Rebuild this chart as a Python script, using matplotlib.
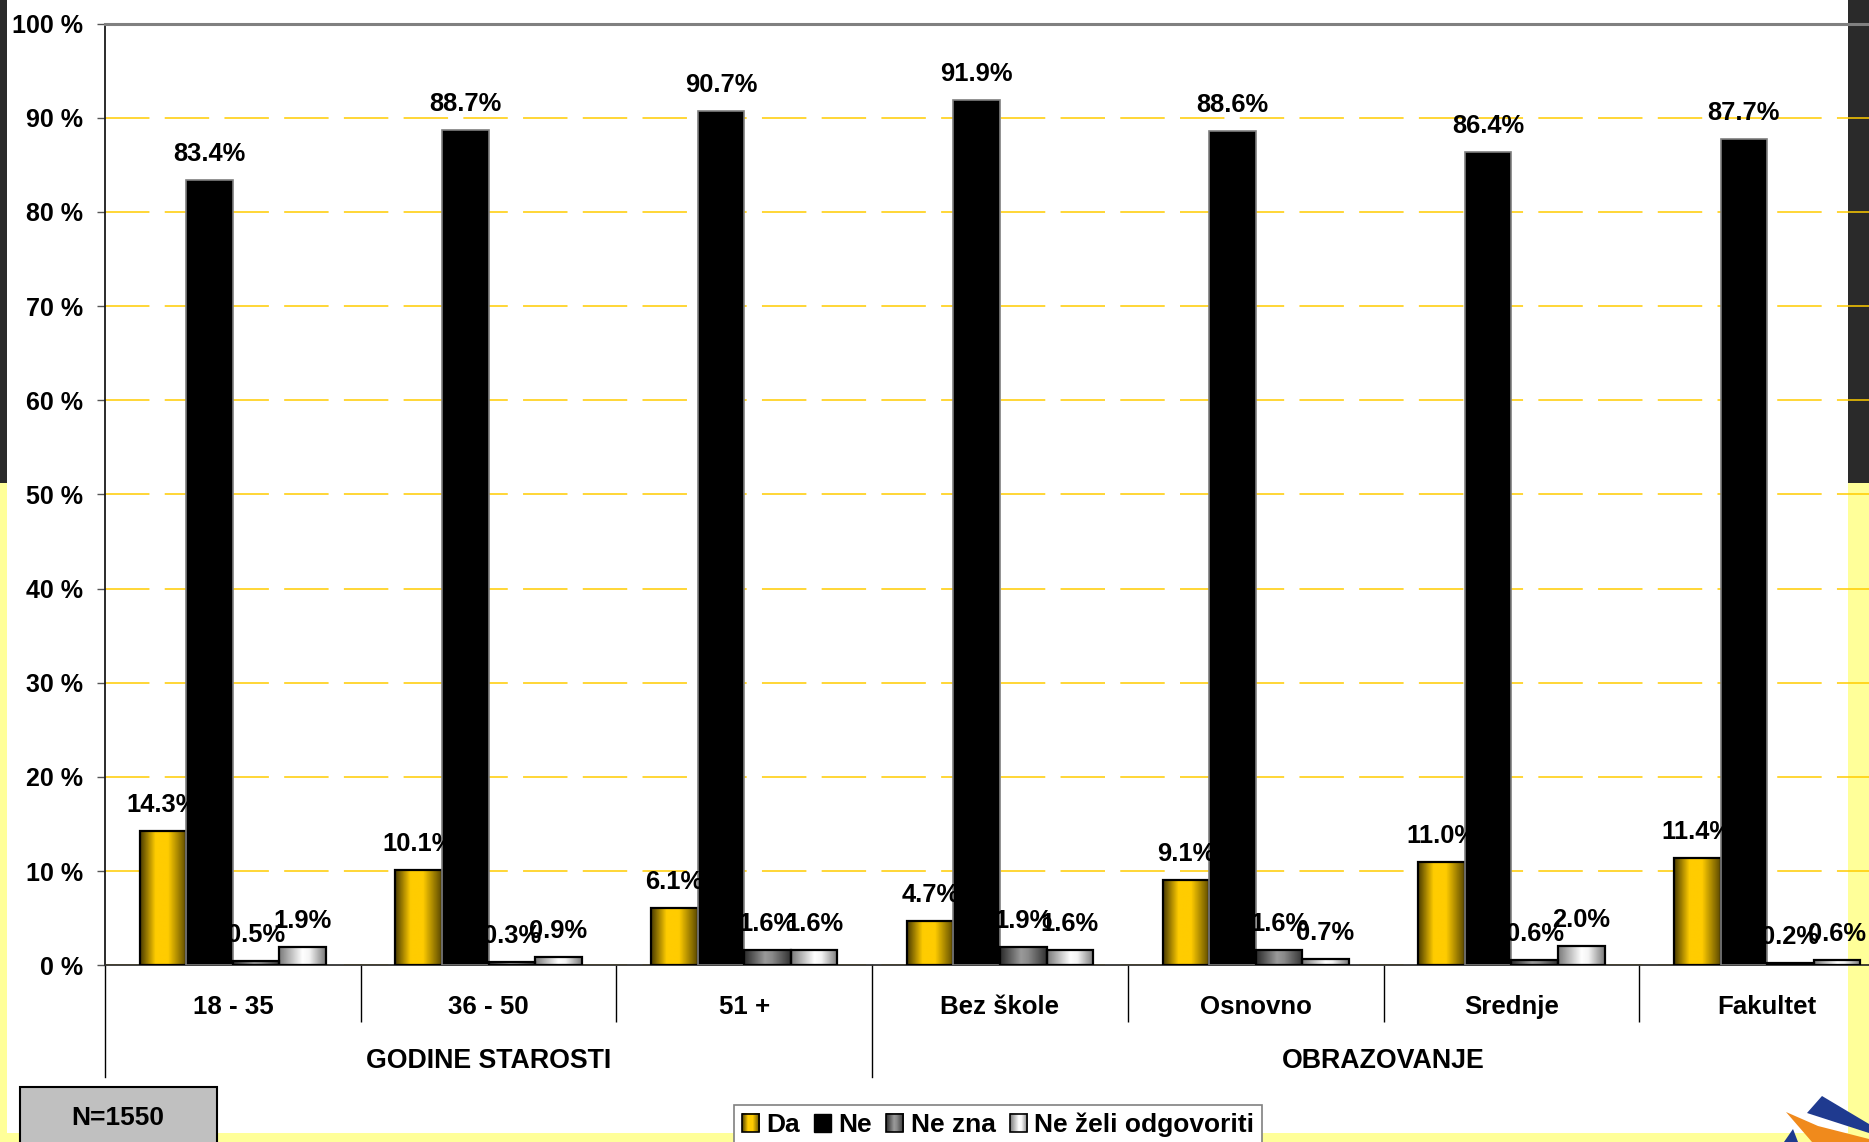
import numpy as np
import matplotlib
matplotlib.use("Agg")
import matplotlib.pyplot as plt
from matplotlib.patches import Rectangle, Polygon
from matplotlib.colors import to_rgb
from matplotlib.legend_handler import HandlerBase
from matplotlib.image import BboxImage
from matplotlib.transforms import Bbox, TransformedBbox

categories = ["18 - 35", "36 - 50", "51 +", "Bez škole", "Osnovno", "Srednje", "Fakultet"]
groups = ["GODINE STAROSTI", "OBRAZOVANJE"]
group_sizes = [3, 4]
series = ["Da", "Ne", "Ne zna", "Ne želi odgovoriti"]
da = [14.3, 10.1, 6.1, 4.7, 9.1, 11.0, 11.4]
ne = [83.4, 88.7, 90.7, 91.9, 88.6, 86.4, 87.7]
ne_zna = [0.5, 0.3, 1.6, 1.9, 1.6, 0.6, 0.2]
ne_zeli = [1.9, 0.9, 1.6, 1.6, 0.7, 2.0, 0.6]
y_ticks = list(range(0, 101, 10))
sample_note = "N=1550"

plt.rcParams['font.family'] = ['Liberation Sans', 'DejaVu Sans']
plt.rcParams['font.weight'] = 'bold'
plt.rcParams['lines.scale_dashes'] = False


def ramp(stops, n=80):
    pos = [p for p, c in stops]
    cols = np.array([to_rgb(c) for p, c in stops])
    t = np.linspace(0, 1, n)
    return np.stack([np.interp(t, pos, cols[:, k]) for k in range(3)], axis=-1)[None, :, :]


grad_da = ramp([(0, '#4a3b00'), (0.33, '#ffcc00'), (0.6, '#ffcc00'), (1, '#5a4800')])
grad_nezna = ramp([(0, '#2a2a2a'), (0.45, '#9a9a9a'), (0.6, '#8a8a8a'), (1, '#333333')])
grad_nezeli = ramp([(0, '#7a7a7a'), (0.5, '#ffffff'), (0.65, '#f4f4f4'), (1, '#7a7a7a')])

W, H = 1869, 1142
fig = plt.figure(figsize=(W / 100, H / 100), dpi=100)
fig.patch.set_facecolor('#FFFF99')


def fbox(x0, y0, x1, y1, **kw):
    r = Rectangle((x0 / W, 1 - y1 / H), (x1 - x0) / W, (y1 - y0) / H,
                  transform=fig.transFigure, **kw)
    fig.add_artist(r)
    return r


# slide background
fbox(7, 0, 1848, 1133, facecolor='white', edgecolor='none', zorder=-10)
fbox(0, 0, 7, 483, facecolor='#2a2a2a', edgecolor='none', zorder=-10)
fbox(1848, 0, 1869, 483, facecolor='#2a2a2a', edgecolor='none', zorder=-10)

ax = fig.add_axes([105 / W, 176.7 / H, 1790 / W, 941.7 / H])
ax.set_facecolor('none')
ax.set_axisbelow(True)
ax.yaxis.grid(True, color='#FFCC00', lw=1.1, linestyle=(0, (32, 11)))

ax.spines['right'].set_visible(False)
ax.spines['top'].set_color('#808080')
ax.spines['top'].set_linewidth(2.2)
ax.spines['left'].set_color('#1a1a1a')
ax.spines['left'].set_linewidth(1.3)
ax.spines['bottom'].set_color('#333333')
ax.spines['bottom'].set_linewidth(1.3)

ax.set_yticks(y_ticks)
ax.set_yticklabels([f"{t} %" for t in y_ticks])
ax.tick_params(axis='y', length=6, width=1, color='#555555', pad=10, labelsize=18)

x = np.arange(len(categories)) + 0.5
width = 0.182
values = [da, ne, ne_zna, ne_zeli]
grads = [grad_da, None, grad_nezna, grad_nezeli]

for k, (vals, grad) in enumerate(zip(values, grads)):
    off = (k - 1.5) * width
    if grad is None:
        bars = ax.bar(x + off, vals, width, facecolor='black', edgecolor='#7f7f7f', lw=1.2, zorder=3)
    else:
        bars = ax.bar(x + off, vals, width, facecolor='none', edgecolor='black', lw=1.6, zorder=3)
        for b in bars:
            ax.imshow(grad, extent=[b.get_x(), b.get_x() + b.get_width(), 0, b.get_height()],
                      aspect='auto', interpolation='bilinear', zorder=2.5)
    for b, v in zip(bars, vals):
        ax.annotate(f"{v:.1f}%", (b.get_x() + b.get_width() / 2, v), xytext=(0, 13.7),
                    textcoords='offset points', ha='center', va='baseline',
                    fontsize=18.4, fontweight='bold', zorder=6)

ax.set_xlim(0, len(categories))
ax.set_ylim(0, 100)

# category axis
ax.set_xticks([])
bounds = np.concatenate([[0], np.cumsum(group_sizes)])
ax.set_xticks([i for i in range(1, len(categories)) if i not in bounds], minor=True)
ax.tick_params(axis='x', which='minor', length=41.3, width=1, color='black')
for cx, cat in zip(x, categories):
    ax.annotate(cat, (cx, 0), xycoords=('data', 'axes fraction'), xytext=(0, -35),
                textcoords='offset points', ha='center', va='baseline', fontsize=18.6,
                fontweight='bold', annotation_clip=False)
for b in bounds:
    ax.plot([b, b], [0, -0.119], transform=ax.get_xaxis_transform(), clip_on=False,
            color='black', lw=1)
for g, a0, a1 in zip(groups, bounds[:-1], bounds[1:]):
    ax.annotate(g, ((a0 + a1) / 2, 0), xycoords=('data', 'axes fraction'), xytext=(0, -74.2),
                textcoords='offset points', ha='center', va='baseline', fontsize=19.3,
                fontweight='bold', annotation_clip=False)

# sample size box
fbox(20, 1087, 217, 1150, facecolor='#C0C0C0', edgecolor='black', lw=1.5, zorder=5)
fig.text(118 / W, 1 - 1125 / H, sample_note, ha='center', va='baseline', fontsize=19,
         fontweight='bold', zorder=6)


class GradientHandler(HandlerBase):
    def __init__(self, grad):
        super().__init__()
        self.grad = grad

    def create_artists(self, legend, orig_handle, xdescent, ydescent, width, height, fontsize, trans):
        bb = TransformedBbox(Bbox.from_bounds(-xdescent, -ydescent, width, height), trans)
        img = BboxImage(bb, interpolation='bilinear')
        img.set_data(self.grad)
        edge = Rectangle((-xdescent, -ydescent), width, height, facecolor='none',
                         edgecolor='black', lw=1.2, transform=trans)
        return [img, edge]


handles = [Rectangle((0, 0), 1, 1, facecolor='black', edgecolor='black') for _ in series]
hmap = {h: GradientHandler(g) for h, g in zip(handles, grads) if g is not None}
leg = fig.legend(handles, series, loc='upper left', bbox_to_anchor=(734 / W, 1 - 1105 / H),
                 ncol=4, fontsize=19, handlelength=0.65, handleheight=0.68, handletextpad=0.27,
                 columnspacing=0.54, borderpad=0.3, borderaxespad=0, frameon=True, fancybox=False,
                 edgecolor='#808080', framealpha=1, handler_map=hmap)
leg.get_frame().set_linewidth(1.2)
leg.set_zorder(6)

# logo
for pts, col in [([(1807, 1113), (1822, 1096), (1869, 1124), (1869, 1133)], '#1f3a8f'),
                 ([(1786, 1112), (1818, 1126), (1869, 1139), (1869, 1142), (1812, 1142)], '#f08a1c'),
                 ([(1784, 1142), (1793, 1129), (1798, 1142)], '#1f3a8f')]:
    fig.add_artist(Polygon([(px / W, 1 - py / H) for px, py in pts], closed=True,
                           transform=fig.transFigure, facecolor=col, edgecolor='none', zorder=7))

fig.savefig('out.png', dpi=100, facecolor=fig.get_facecolor())
